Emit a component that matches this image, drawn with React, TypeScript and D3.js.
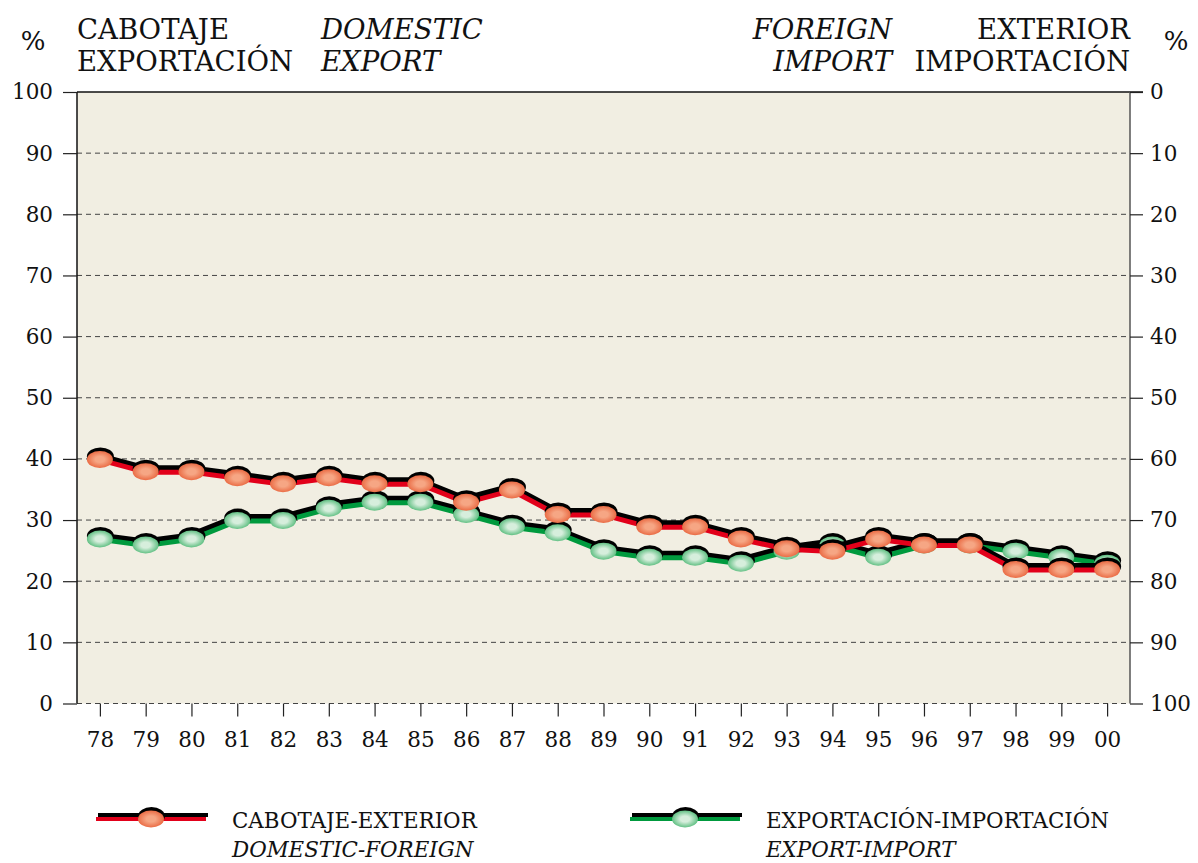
import React, { useEffect, useRef } from "react";
import * as d3 from "d3";

const years = ["78", "79", "80", "81", "82", "83", "84", "85", "86", "87", "88", "89", "90", "91", "92", "93", "94", "95", "96", "97", "98", "99", "00"];
const cabotajeExterior = [40, 38, 38, 37, 36, 37, 36, 36, 33, 35, 31, 31, 29, 29, 27, 25.4, 25, 27, 26, 26, 22, 22, 22];
const exportImport = [27, 26, 27, 30, 30, 32, 33, 33, 31, 29, 28, 25, 24, 24, 23, 25, 26, 24, 26, 26, 25, 24, 23];
const leftTicks = [0, 10, 20, 30, 40, 50, 60, 70, 80, 90, 100];

const FONT = "DejaVu Serif, serif";

const App = () => {
  const ref = useRef<SVGSVGElement | null>(null);
  const W = 1198;
  const H = 863;
  const plot = { left: 77, right: 1130, top: 92, bottom: 703.5 };

  useEffect(() => {
    const svg = d3.select(ref.current);
    svg.selectAll("*").remove();

    const defs = svg.append("defs");
    const grad = (id: string, inner: string, outer: string) => {
      const g = defs.append("radialGradient").attr("id", id).attr("cx", "50%").attr("cy", "50%").attr("r", "50%");
      g.append("stop").attr("offset", "0%").attr("stop-color", inner);
      g.append("stop").attr("offset", "35%").attr("stop-color", inner);
      g.append("stop").attr("offset", "100%").attr("stop-color", outer);
    };
    grad("gRed", "#f6a684", "#ea6c45");
    grad("gGreen", "#d6eedc", "#62c084");

    const x = d3.scalePoint<string>().domain(years).range([plot.left, plot.right]).padding(0.5);
    const y = d3.scaleLinear().domain([0, 100]).range([plot.bottom, plot.top]);
    const yR = d3.scaleLinear().domain([100, 0]).range([plot.bottom, plot.top]);

    svg
      .append("rect")
      .attr("x", plot.left)
      .attr("y", plot.top)
      .attr("width", plot.right - plot.left)
      .attr("height", plot.bottom - plot.top)
      .attr("fill", "#f1eee2");

    // grid
    svg
      .append("g")
      .selectAll("line")
      .data(leftTicks.filter((d) => d < 100))
      .join("line")
      .attr("x1", plot.left)
      .attr("x2", plot.right)
      .attr("y1", (d) => y(d))
      .attr("y2", (d) => y(d))
      .attr("stroke", "#444")
      .attr("stroke-width", 1)
      .attr("stroke-dasharray", "5,4");

    // frame
    svg.append("line").attr("x1", plot.left).attr("x2", plot.right + 13).attr("y1", plot.top).attr("y2", plot.top).attr("stroke", "#111").attr("stroke-width", 1.5);
    svg.append("line").attr("x1", plot.left).attr("x2", plot.left).attr("y1", plot.top).attr("y2", plot.bottom).attr("stroke", "#111").attr("stroke-width", 1.5);
    svg.append("line").attr("x1", plot.right).attr("x2", plot.right).attr("y1", plot.top).attr("y2", plot.bottom).attr("stroke", "#555").attr("stroke-width", 1.5);

    // left axis
    const left = svg
      .append("g")
      .attr("transform", `translate(${plot.left},0)`)
      .call(d3.axisLeft(y).tickValues(leftTicks).tickSize(14).tickPadding(10).tickSizeOuter(0));
    left.select(".domain").remove();
    left.selectAll("line").attr("stroke", "#222").attr("stroke-width", 1.2);
    left.selectAll("text").attr("font-family", FONT).attr("font-size", 21.5).attr("fill", "#111");

    // right axis
    const right = svg
      .append("g")
      .attr("transform", `translate(${plot.right},0)`)
      .call(d3.axisRight(yR).tickValues(leftTicks).tickSize(13).tickPadding(7).tickSizeOuter(0));
    right.select(".domain").remove();
    right.selectAll("line").attr("stroke", "#222").attr("stroke-width", 1.2);
    right.selectAll("text").attr("font-family", FONT).attr("font-size", 21.5).attr("fill", "#111");

    // bottom axis
    const bottom = svg
      .append("g")
      .attr("transform", `translate(0,${plot.bottom})`)
      .call(d3.axisBottom(x).tickSize(13).tickPadding(15).tickSizeOuter(0));
    bottom.select(".domain").remove();
    bottom.selectAll("line").attr("stroke", "#222").attr("stroke-width", 1.2);
    bottom.selectAll("text").attr("font-family", FONT).attr("font-size", 21.5).attr("fill", "#111");

    const series = [
      { values: exportImport, line: "#009a3e", fill: "url(#gGreen)" },
      { values: cabotajeExterior, line: "#e2001a", fill: "url(#gRed)" },
    ];

    const lineGen = d3
      .line<number>()
      .x((d, i) => x(years[i]) as number)
      .y((d) => y(d));

    series.forEach((s) => {
      const g = svg.append("g");
      g.append("path")
        .attr("d", lineGen(s.values))
        .attr("fill", "none")
        .attr("stroke", "#000")
        .attr("stroke-width", 6)
        .attr("stroke-linejoin", "round")
        .attr("transform", "translate(-1,-3)");
      g.append("path")
        .attr("d", lineGen(s.values))
        .attr("fill", "none")
        .attr("stroke", s.line)
        .attr("stroke-width", 5)
        .attr("stroke-linejoin", "round")
        .attr("transform", "translate(0,1)");
      g.selectAll("ellipse.sh")
        .data(s.values)
        .join("ellipse")
        .attr("class", "sh")
        .attr("cx", (d, i) => (x(years[i]) as number) + 0.5)
        .attr("cy", (d) => y(d) - 2.5)
        .attr("rx", 13.5)
        .attr("ry", 9)
        .attr("fill", "#000");
      g.selectAll("ellipse.mk")
        .data(s.values)
        .join("ellipse")
        .attr("class", "mk")
        .attr("cx", (d, i) => x(years[i]) as number)
        .attr("cy", (d) => y(d) + 0.5)
        .attr("rx", 13)
        .attr("ry", 8.5)
        .attr("fill", s.fill);
    });

    // header texts
    const txt = (t: string, xx: number, yy: number, anchor: string, italic = false, size = 27.5) =>
      svg
        .append("text")
        .attr("x", xx)
        .attr("y", yy)
        .attr("text-anchor", anchor)
        .attr("font-family", FONT)
        .attr("font-size", size)
        .attr("font-style", italic ? "italic" : "normal")
        .attr("fill", "#111")
        .text(t);

    txt("%", 33, 50, "middle", false, 26);
    txt("CABOTAJE", 77, 39, "start");
    txt("EXPORTACIÓN", 77, 71, "start");
    txt("DOMESTIC", 321, 39, "start", true);
    txt("EXPORT", 321, 71, "start", true);
    txt("FOREIGN", 892, 39, "end", true);
    txt("IMPORT", 892, 71, "end", true);
    txt("EXTERIOR", 1130, 39, "end");
    txt("IMPORTACIÓN", 1130, 71, "end");
    txt("%", 1176, 50, "middle", false, 26);

    // legend
    const legend = [
      { label: "CABOTAJE-EXTERIOR", sub: "DOMESTIC-FOREIGN", x0: 96, tx: 232, line: "#e2001a", fill: "url(#gRed)" },
      { label: "EXPORTACIÓN-IMPORTACIÓN", sub: "EXPORT-IMPORT", x0: 630, tx: 766, line: "#009a3e", fill: "url(#gGreen)" },
    ];
    legend.forEach((l) => {
      const g = svg.append("g");
      const ly = 818;
      g.append("line").attr("x1", l.x0 + 2).attr("x2", l.x0 + 112).attr("y1", ly - 3).attr("y2", ly - 3).attr("stroke", "#000").attr("stroke-width", 4);
      g.append("line").attr("x1", l.x0).attr("x2", l.x0 + 110).attr("y1", ly + 1).attr("y2", ly + 1).attr("stroke", l.line).attr("stroke-width", 4);
      g.append("ellipse").attr("cx", l.x0 + 55.5).attr("cy", ly - 2).attr("rx", 13.5).attr("ry", 9).attr("fill", "#000");
      g.append("ellipse").attr("cx", l.x0 + 55).attr("cy", ly + 1).attr("rx", 13).attr("ry", 8.5).attr("fill", l.fill);
      txt(l.label, l.tx, 828, "start", false, 21.4);
      txt(l.sub, l.tx, 857, "start", true, 21.4);
    });
  }, []);

  return <svg ref={ref} width={W} height={H} style={{ display: "block", position: "absolute", left: 0, top: 0, background: "#fff" }} />;
};

export default App;
